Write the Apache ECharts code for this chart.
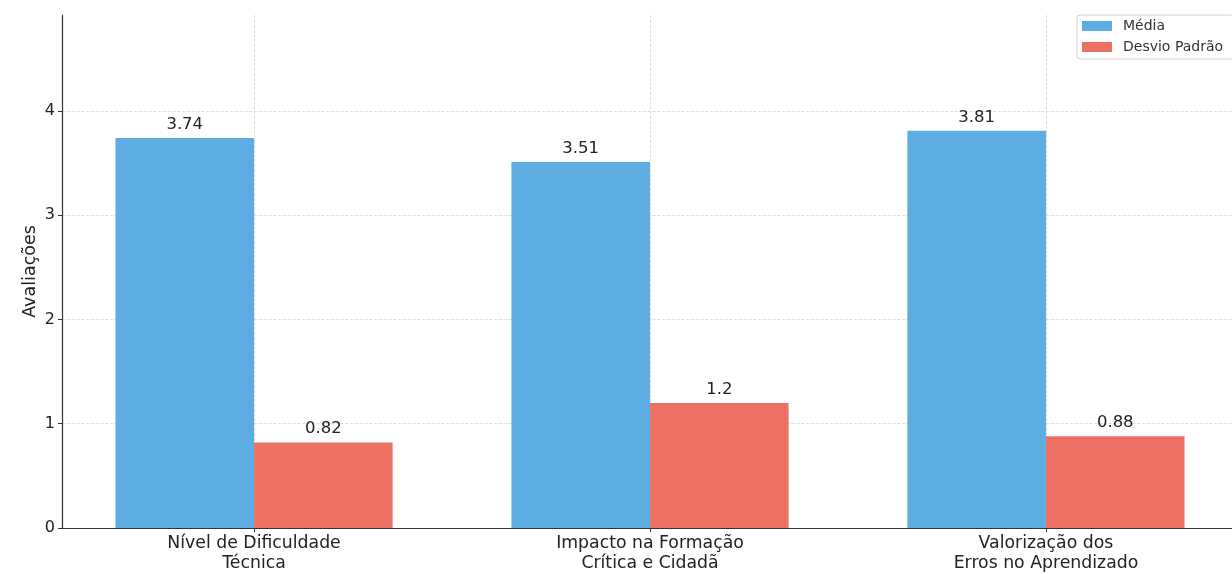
<!DOCTYPE html>
<html lang="pt">
<head>
	<meta charset="UTF-8">
	<title>Avaliações</title>
	<style>
		html, body { margin: 0; padding: 0; background: #fff; overflow: hidden; }
	</style>
</head>
<body>
	<!-- the plot area runs a few px past the right edge, as in the original -->
	<div id="bars" style="width:1238px;height:574px;"></div>
<script src="https://cdn.jsdelivr.net/npm/echarts@6/dist/echarts.min.js"></script>
<script>
var categories = ['Nível de Dificuldade\nTécnica', 'Impacto na Formação\nCrítica e Cidadã', 'Valorização dos\nErros no Aprendizado'];
var seriesNames = ['Média', 'Desvio Padrão'];
var media = [3.74, 3.51, 3.81];
var desvio = [0.82, 1.2, 0.88];
var yTicks = [0, 1, 2, 3, 4];
var catPos = [0, 1, 2];

function toPoints(vals){
  var out = [];
  for (var i = 0; i < vals.length; i++) {
    out.push([catPos[i], vals[i]]);
  }
  return out;
}

var font = 'DejaVu Sans';
var myChart = echarts.init(document.getElementById('bars'));

var option = {
  animation: false,
  textStyle: { fontFamily: font },
  color: ['#5DADE2', '#EC7063'],
  grid: {
    left: 62,
    right: 0,
    top: 15,
    bottom: 44.5,
    containLabel: false
  },
  legend: {
    orient: 'vertical',
    left: 1077,
    top: 15,
    icon: 'rect',
    itemWidth: 30,
    itemHeight: 10,
    itemGap: 7,
    padding: [4, 10, 5, 5],
    borderColor: '#d0d0d0',
    borderWidth: 1,
    borderRadius: 3,
    data: seriesNames,
    textStyle: { fontFamily: font, fontSize: 14, color: '#333', padding: [0, 0, 0, 6] }
  },
  xAxis: {
    type: 'value',
    min: -0.485,
    max: 2.485,
    axisLine: { show: true, lineStyle: { color: '#333', width: 1.2 } },
    axisTick: { show: true, length: 4, inside: false, customValues: catPos, lineStyle: { color: '#333' } },
    axisLabel: {
      customValues: catPos,
      margin: 6,
      fontSize: 17.3,
      lineHeight: 20,
      color: '#222',
      fontFamily: font,
      formatter: function (v) {
        var i = Math.round(v);
        return categories[i] || '';
      }
    },
    splitLine: { show: true, lineStyle: { color: '#d6d6d6', type: 'dashed', width: 0.8 } }
  },
  yAxis: {
    type: 'value',
    min: 0,
    max: 4.92,
    name: 'Avaliações',
    nameLocation: 'middle',
    nameGap: 23,
    nameMoveOverlap: false,
    nameTextStyle: { fontFamily: font, fontSize: 17.5, color: '#222' },
    axisLine: { show: true, onZero: false, lineStyle: { color: '#333', width: 1.2 } },
    axisTick: { show: true, length: 4, customValues: yTicks, lineStyle: { color: '#333' } },
    axisLabel: {
      customValues: yTicks,
      margin: 7,
      fontSize: 16,
      color: '#222',
      fontFamily: font
    },
    splitLine: { show: true, lineStyle: { color: '#d6d6d6', type: 'dashed', width: 0.8 } }
  },
  series: [
    {
      name: seriesNames[0],
      type: 'bar',
      barWidth: '35%',
      barGap: '0%',
      data: toPoints(media),
      label: { show: true, position: 'top', distance: 5, fontSize: 16.5, color: '#222', fontFamily: font }
    },
    {
      name: seriesNames[1],
      type: 'bar',
      barWidth: '35%',
      barGap: '0%',
      data: toPoints(desvio),
      label: { show: true, position: 'top', distance: 5, fontSize: 16.5, color: '#222', fontFamily: font }
    }
  ]
};
myChart.setOption(option);
</script>
</body>
</html>
